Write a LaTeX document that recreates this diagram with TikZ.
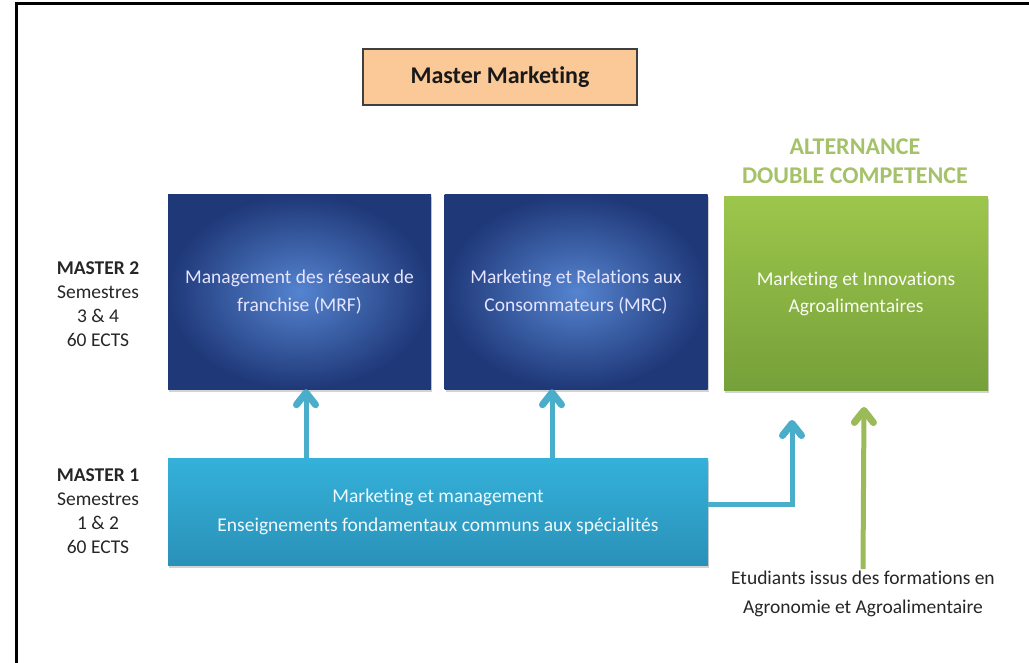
\documentclass[tikz,border=0pt]{standalone}
\usepackage{fontspec}
\setmainfont{Carlito}[Ligatures=NoCommon]
\usetikzlibrary{arrows.meta,shadows}
\definecolor{peach}{HTML}{FBC898}
\definecolor{titleline}{HTML}{3F3F3F}
\definecolor{navyout}{HTML}{1F3878}
\definecolor{navyin}{HTML}{5584D0}
\definecolor{agrotop}{HTML}{9CC64B}
\definecolor{agrobot}{HTML}{76A03A}
\definecolor{cyantop}{HTML}{34B1DA}
\definecolor{cyanbot}{HTML}{2A91B8}
\definecolor{cyanarrow}{HTML}{4AADC9}
\definecolor{agroarrow}{HTML}{9BBB59}
\begin{document}
\begin{tikzpicture}[x=1pt,y=-1pt,
  every node/.style={font=\fontsize{19.5}{24}\selectfont, align=center},
  boxshadow/.style={drop shadow={opacity=0.35,shadow xshift=1pt,shadow yshift=-2.5pt}},
  specbox/.style={boxshadow, minimum width=263pt, minimum height=194pt, inner sep=0pt,
    shading=radial, inner color=navyin, outer color=navyout, text=white!90!blue},
  upline/.style={line width=5pt,
    -{Straight Barb[length=12pt,width=19pt,line width=7pt,round]}}]
\useasboundingbox (0,0) rectangle (1029,663);
% frame
\draw[line width=3pt] (16,663) -- (16,4) -- (1029,4);
% master marketing
\node[draw=titleline, line width=1.6pt, fill=peach, minimum width=274pt, minimum height=56pt,
  font=\fontsize{24}{29}\selectfont\bfseries, text=black!90] (master) at (500,77) {Master Marketing};
% alternance
\node[font=\fontsize{24}{29}\selectfont\bfseries, text=agroarrow!90!white] (alt) at (855,161.5)
  {ALTERNANCE \\ DOUBLE COMPETENCE};
% master 2
\node[text=black!85] (m2) at (98,304) {\textbf{MASTER 2} \\ Semestres \\ 3 \& 4 \\ 60 ECTS};
\node[specbox, font=\fontsize{19.5}{28}\selectfont] (mrf) at (299.5,292)
  {Management des réseaux de \\ franchise (MRF)};
\node[specbox, font=\fontsize{19.5}{28}\selectfont] (mrc) at (576,292)
  {Marketing et Relations aux \\ Consommateurs (MRC)};
\node[boxshadow, minimum width=264pt, minimum height=193pt, inner sep=0pt,
  top color=agrotop, bottom color=agrobot, text=white!95!agrotop,
  font=\fontsize{19.5}{27}\selectfont] (mia) at (856,293.5)
  {Marketing et Innovations \\ Agroalimentaires};
% master 1
\node[text=black!85] (m1) at (98,511) {\textbf{MASTER 1} \\ Semestres \\ 1 \& 2 \\ 60 ECTS};
\node[boxshadow, minimum width=540pt, minimum height=107pt, inner sep=0pt,
  top color=cyantop, bottom color=cyanbot, text=white!92!cyantop,
  font=\fontsize{19.5}{29}\selectfont] (core) at (438,511.5)
  {Marketing et management \\ Enseignements fondamentaux communs aux spécialités};
% etudiants agro
\node[text=black!85, font=\fontsize{19.5}{29}\selectfont] (etud) at (863,593.5)
  {Etudiants issus des formations en \\ Agronomie et Agroalimentaire};
% arrows
\coordinate (mia1) at (792,420);
\coordinate (mia2) at (864,407);
\draw[upline, cyanarrow] ([xshift=6.5pt]mrf.south |- core.north) -- ([xshift=6.5pt]mrf.south);
\draw[upline, cyanarrow] ([xshift=-24pt]mrc.south |- core.north) -- ([xshift=-24pt]mrc.south);
\draw[upline, cyanarrow] ([yshift=7.5pt]core.east) -| (mia1);
\draw[upline, agroarrow] ([yshift=-2pt]etud.north) -- (mia2);
\end{tikzpicture}
\end{document}
